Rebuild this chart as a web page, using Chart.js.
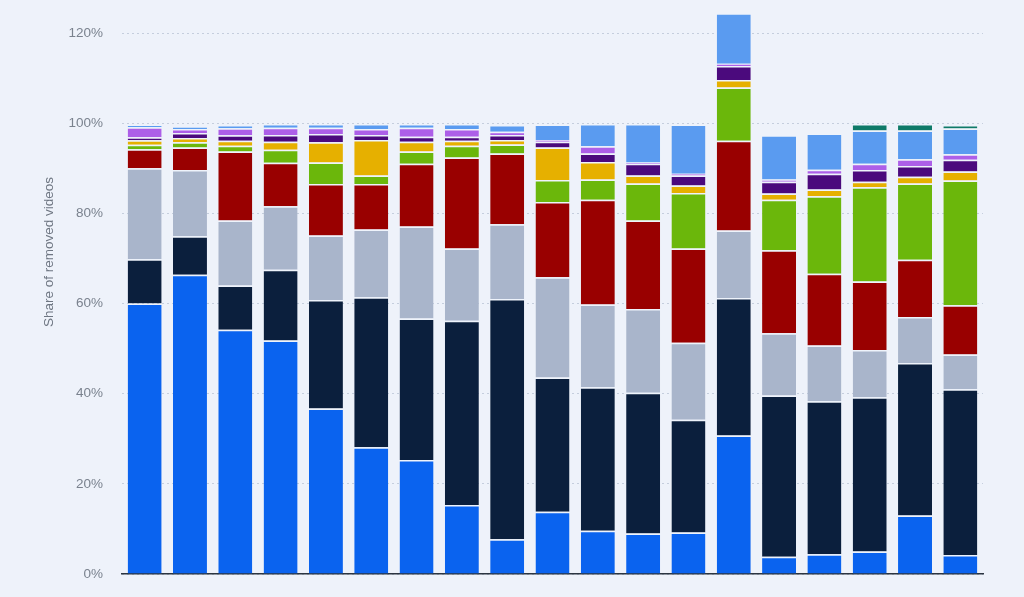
<!DOCTYPE html>
<html>
<head>
<meta charset="utf-8">
<script src="https://cdn.jsdelivr.net/npm/chart.js@4/dist/chart.umd.min.js"></script>
<style>
  html, body { margin: 0; padding: 0; background: #eef2fa; }
  #wrap { width: 1024px; height: 597px; }
</style>
</head>
<body>
<div id="wrap"><canvas id="removed" width="1024" height="597"></canvas></div>
<script>
// categories (no labels shown on the axis)
var labels = ['1', '2', '3', '4', '5', '6', '7', '8', '9', '10', '11', '12', '13', '14', '15', '16', '17', '18', '19'];

// share of removed videos, bottom to top of each stack
var blue    = [60.0, 66.4, 54.2, 51.8, 36.7, 28.1, 25.3, 15.3, 7.7, 13.8, 9.6, 9.0, 9.2, 30.7, 3.8, 4.4, 5.0, 13.0, 4.2];
var navy    = [9.8, 8.5, 9.8, 15.7, 24.1, 33.3, 31.4, 40.9, 53.3, 29.8, 31.8, 31.2, 25.0, 30.5, 35.8, 33.9, 34.2, 33.8, 36.8];
var grey    = [20.2, 14.7, 14.4, 14.1, 14.3, 15.0, 20.4, 16.0, 16.6, 22.2, 18.4, 18.6, 17.1, 15.0, 13.8, 12.4, 10.5, 10.2, 7.7];
var red     = [4.2, 5.0, 15.3, 9.6, 11.4, 10.1, 13.9, 20.2, 15.7, 16.7, 23.2, 19.6, 20.9, 19.9, 18.4, 15.9, 15.2, 12.7, 10.9];
var green   = [1.0, 1.2, 1.3, 2.9, 4.8, 1.9, 2.7, 2.6, 2.0, 4.9, 4.5, 8.2, 12.3, 11.8, 11.2, 17.2, 20.9, 16.9, 27.7];
var yellow  = [1.0, 0.9, 1.1, 1.8, 4.5, 7.9, 2.2, 1.1, 1.0, 7.2, 3.9, 1.8, 1.7, 1.7, 1.4, 1.5, 1.2, 1.5, 2.0];
var purple  = [0.7, 1.1, 1.2, 1.5, 1.8, 1.1, 1.1, 0.9, 1.1, 1.3, 1.9, 2.6, 2.2, 3.1, 2.6, 3.5, 2.6, 2.4, 2.6];
var lilac   = [2.2, 0.9, 1.6, 1.6, 1.4, 1.3, 2.0, 1.7, 0.7, 0.4, 1.6, 0.3, 0.4, 0.5, 0.5, 0.9, 1.4, 1.5, 1.2];
var skyblue = [0.6, 0.6, 0.7, 0.8, 0.8, 1.1, 0.8, 1.1, 1.5, 3.4, 4.9, 8.5, 10.9, 11.2, 9.8, 8.0, 7.4, 6.4, 5.7];
var teal    = [0, 0, 0, 0, 0, 0, 0, 0, 0, 0, 0, 0, 0, 0, 0, 0, 1.4, 1.4, 0.8];

var yTicks = [0, 20, 40, 60, 80, 100, 120];
var yTitle = 'Share of removed videos';

var seriesList = [
	{ label: 'Series 1', data: blue, color: '#0a63ef' },
	{ label: 'Series 2', data: navy, color: '#0b1f3d' },
	{ label: 'Series 3', data: grey, color: '#a9b5cb' },
	{ label: 'Series 4', data: red, color: '#990000' },
	{ label: 'Series 5', data: green, color: '#6bb70b' },
	{ label: 'Series 6', data: yellow, color: '#e6b000' },
	{ label: 'Series 7', data: purple, color: '#4b0a7d' },
	{ label: 'Series 8', data: lilac, color: '#ad5fe8' },
	{ label: 'Series 9', data: skyblue, color: '#5a9bf0' },
	{ label: 'Series 10', data: teal, color: '#0e7a68' },
];

var dataSets = [];
for (var i = 0; i < seriesList.length; i++) {
	dataSets[i] = {
		label: seriesList[i].label,
		data: seriesList[i].data,
		backgroundColor: seriesList[i].color,
		borderColor: '#eef3fb',
		borderWidth: { top: 1.5, left: 0, right: 0, bottom: 0 },
		borderSkipped: false,
		barPercentage: 0.75,
		categoryPercentage: 1,
	};
}

// paint the page colour behind the chart, and the y title a bit above centre
var bgPlugin = {
	id: 'bg',
	beforeDraw: function (chart) {
		var c = chart.ctx;
		c.save();
		c.fillStyle = '#eef2fa';
		c.fillRect(0, 0, chart.width, chart.height);
		c.restore();
	},
	afterDraw: function (chart) {
		var c = chart.ctx;
		c.save();
		c.translate(49, 252);
		c.rotate(-Math.PI / 2);
		c.fillStyle = '#6e7682';
		c.font = '13.5px Arial, "Liberation Sans", sans-serif';
		c.textAlign = 'center';
		c.textBaseline = 'middle';
		c.fillText(yTitle, 0, 0);
		c.restore();
	},
};

var ctx = document.getElementById('removed').getContext('2d');
var chart = new Chart(ctx, {
	type: 'bar',
	data: { labels: labels, datasets: dataSets },
	plugins: [bgPlugin],
	options: {
		responsive: false,
		animation: false,
		layout: { padding: { left: 0, right: 41, top: 10.5, bottom: 15 } },
		plugins: {
			legend: { display: false },
			tooltip: { enabled: false },
		},
		scales: {
			x: {
				stacked: true,
				grid: { display: false },
				ticks: { display: false },
				border: { display: true, color: '#2b3440', width: 1.5 },
			},
			y: {
				stacked: true,
				min: 0,
				max: 125,
				afterBuildTicks: function (scale) {
					scale.ticks = yTicks.map(function (v) { return { value: v }; });
				},
				afterFit: function (scale) { scale.width = 122; },
				// invisible tick marks keep the labels away from the plot
				grid: { color: '#c5cedd', lineWidth: 1, drawTicks: true, tickLength: 19, tickColor: 'rgba(0,0,0,0)' },
				border: { display: false, dash: [2, 3] },
				ticks: {
					padding: 0,
					color: '#7a828e',
					font: { family: 'Arial, "Liberation Sans", sans-serif', size: 13.5 },
					callback: function (v) { return v + '%'; },
				},
			},
		},
	},
});
</script>
</body>
</html>
